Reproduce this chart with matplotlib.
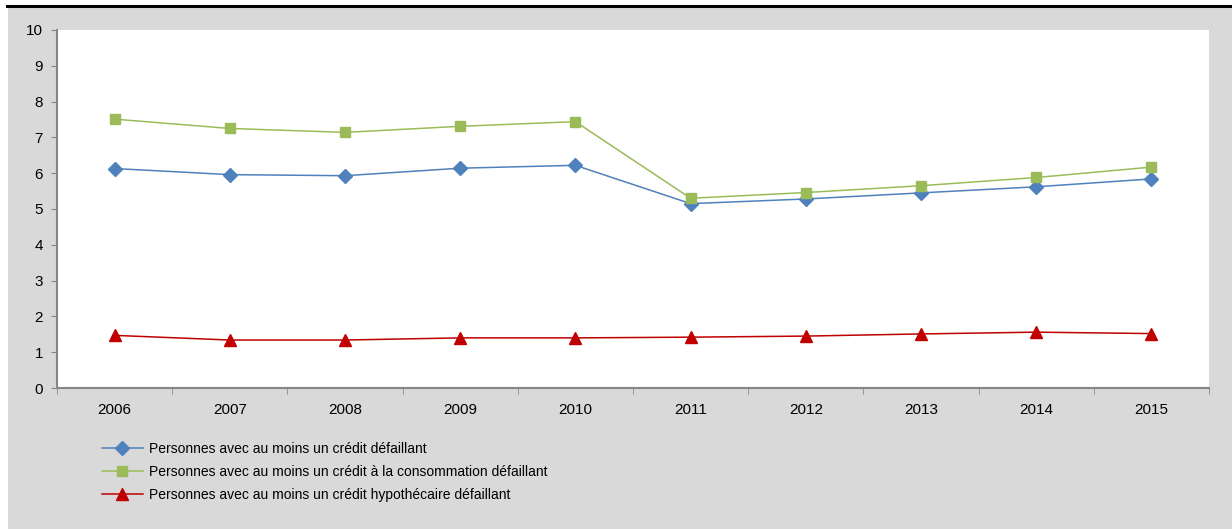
import matplotlib
matplotlib.use("Agg")
import matplotlib.pyplot as plt
from matplotlib.patches import Rectangle
from matplotlib.lines import Line2D

plt.rcParams['font.family'] = ['Liberation Sans', 'DejaVu Sans']

years = ['2006', '2007', '2008', '2009', '2010', '2011', '2012', '2013', '2014', '2015']
credit_any = [6.13, 5.96, 5.93, 6.14, 6.22, 5.15, 5.28, 5.45, 5.62, 5.84]
credit_conso = [7.51, 7.25, 7.14, 7.31, 7.44, 5.30, 5.46, 5.65, 5.88, 6.17]
credit_hypo = [1.47, 1.34, 1.34, 1.40, 1.40, 1.42, 1.45, 1.51, 1.56, 1.52]
labels = [
    "Personnes avec au moins un crédit défaillant",
    "Personnes avec au moins un crédit à la consommation défaillant",
    "Personnes avec au moins un crédit hypothécaire défaillant",
]

W, H = 1232, 529
fig = plt.figure(figsize=(W / 100, H / 100), dpi=100)
fig.patch.set_facecolor('white')

# grey frame + black line on top
fig.patches.append(Rectangle((8 / W, 0), 1 - 8 / W, 1 - 8 / H, transform=fig.transFigure,
                             facecolor='#d9d9d9', edgecolor='none', zorder=-5))
fig.add_artist(Line2D([7 / W, 1], [1 - 6 / H, 1 - 6 / H], transform=fig.transFigure,
                      color='black', linewidth=2.2))

left, right, top, bottom = 57, 1209, 30, 388
ax = fig.add_axes([left / W, 1 - bottom / H, (right - left) / W, (bottom - top) / H])
ax.set_facecolor('white')

x = range(len(years))
ax.plot(x, credit_any, color='#4f81bd', marker='D', markersize=7.5, linewidth=1.1, label=labels[0])
ax.plot(x, credit_conso, color='#9bbb59', marker='s', markersize=7.5, linewidth=1.1, label=labels[1])
ax.plot(x, credit_hypo, color='#c00000', marker='^', markersize=8.5, linewidth=1.1, label=labels[2])

ax.set_xlim(-0.5, len(years) - 0.5)
ax.set_ylim(0, 10)
ax.set_yticks(range(0, 11))
ax.set_xticks(list(x))
ax.set_xticklabels(years)
ax.set_xticks([i - 0.5 for i in range(len(years) + 1)], minor=True)
ax.tick_params(axis='x', which='major', length=0, pad=11, labelsize=11)
ax.tick_params(axis='x', which='minor', length=4, color='#868686', direction='out')
ax.tick_params(axis='y', length=4, color='#868686', direction='out', labelsize=11, pad=6)

for s in ['top', 'right']:
    ax.spines[s].set_visible(False)
for s in ['left', 'bottom']:
    ax.spines[s].set_color('#868686')
    ax.spines[s].set_linewidth(1.5)

leg = fig.legend(loc='upper left', bbox_to_anchor=(96 / W, 1 - 436 / H), frameon=False,
                 fontsize=10, handlelength=3.0, handletextpad=0.4, labelspacing=0.66,
                 borderaxespad=0)

fig.savefig('out.png', dpi=100, facecolor=fig.get_facecolor())
